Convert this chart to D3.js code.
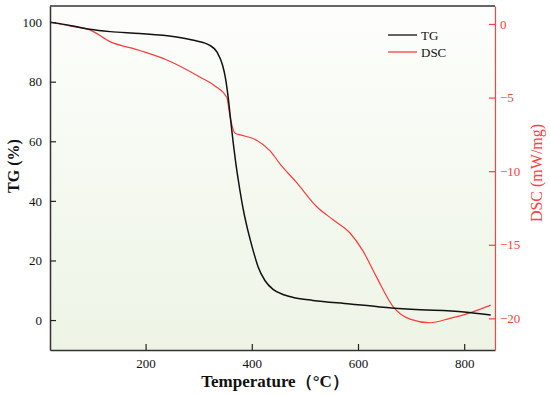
<!DOCTYPE html>
<html>
<head>
<meta charset="utf-8">
<script src="https://cdn.jsdelivr.net/npm/d3@7"></script>
<style>
body { margin: 0; background: #fff; }
svg text { font-family: "Liberation Serif", "Times New Roman", serif; }
</style>
</head>
<body>
<script>
// TG curve (mass %) vs temperature
const tgTemp = [20, 60, 95, 133, 189, 255, 293, 320, 335, 345, 350, 355, 360, 365, 370, 375, 383, 390, 397, 405, 412, 425, 440, 460, 480, 515, 585, 641, 700, 800, 850];
const tgVal = [100, 98.8, 97.6, 96.8, 96.2, 95.1, 93.8, 92.3, 89.8, 85.5, 81.6, 75.5, 67.5, 59.5, 52.5, 46.5, 38, 32, 27, 21.8, 17.8, 13.2, 10.3, 8.5, 7.5, 6.6, 5.4, 4.4, 3.6, 2.7, 1.7];
// DSC curve (mW/mg)
const dscTemp = [20, 60, 95, 133, 189, 240, 302, 330, 353, 359, 368, 380, 400, 409, 434, 453, 485, 522, 553, 585, 609, 635, 666, 698, 736, 773, 800, 850];
const dscVal = [0.1, -0.15, -0.4, -1.2, -1.8, -2.45, -3.6, -4.2, -5.0, -6.3, -7.4, -7.55, -7.75, -7.9, -8.6, -9.5, -10.8, -12.4, -13.3, -14.2, -15.4, -17.2, -19.2, -20.05, -20.3, -20.0, -19.75, -19.1];
const tgTicks = [0, 20, 40, 60, 80, 100];
const dscTicks = [0, -5, -10, -15, -20];
const tempTicks = [200, 400, 600, 800];

const width = 550, height = 396;
const mLeft = 50, mRight = 495, mTop = 6, mBottom = 350;

const svg = d3.select('body').append('svg').attr('width', width).attr('height', height);

const grad = svg.append('defs').append('linearGradient')
  .attr('id', 'bg').attr('x1', 0).attr('y1', 0).attr('x2', 0).attr('y2', 1);
grad.append('stop').attr('offset', '0%').attr('stop-color', '#fdfefc');
grad.append('stop').attr('offset', '100%').attr('stop-color', '#edf4e5');

svg.append('rect').attr('x', mLeft).attr('y', mTop)
  .attr('width', mRight - mLeft).attr('height', mBottom - mTop).attr('fill', 'url(#bg)');

const x = d3.scaleLinear().domain([20, 858]).range([mLeft, mRight]);
const yTG = d3.scaleLinear().domain([-10.05, 105.4]).range([mBottom, mTop]);
const yDSC = d3.scaleLinear().domain([-22.15, 1.22]).range([mBottom, mTop]);

const line = (xs, ys, yScale) => d3.line()
  .x((d, i) => x(xs[i]))
  .y(d => yScale(d))
  .curve(d3.curveMonotoneX)(ys);

svg.append('path').attr('d', line(dscTemp, dscVal, yDSC))
  .attr('fill', 'none').attr('stroke', '#ff3b3b').attr('stroke-width', 1.2);
svg.append('path').attr('d', line(tgTemp, tgVal, yTG))
  .attr('fill', 'none').attr('stroke', '#111').attr('stroke-width', 1.5);

// axes
const gl = svg.append('g').attr('transform', `translate(${mLeft},0)`)
  .call(d3.axisLeft(yTG).tickValues(tgTicks).tickSizeInner(-6).tickSizeOuter(0).tickPadding(8));
const gb = svg.append('g').attr('transform', `translate(0,${mBottom})`)
  .call(d3.axisBottom(x).tickValues(tempTicks).tickSizeInner(-6).tickSizeOuter(0).tickPadding(9));
const gr = svg.append('g').attr('transform', `translate(${mRight},0)`)
  .call(d3.axisRight(yDSC).tickValues(dscTicks).tickSizeInner(-6).tickSizeOuter(0).tickPadding(5));

[gl, gb].forEach(g => {
  g.select('.domain').attr('stroke', '#333').attr('stroke-width', 1.5);
  g.selectAll('.tick line').attr('stroke', '#222').attr('stroke-width', 1.2);
  g.selectAll('text').attr('font-size', 13).attr('fill', '#111')
    .style('font-family', '"Liberation Serif", serif');
});
gr.select('.domain').attr('stroke', '#ff4040').attr('stroke-width', 1.2);
gr.selectAll('.tick line').attr('stroke', '#ff4040').attr('stroke-width', 1.2);
gr.selectAll('text').attr('font-size', 13).attr('fill', '#ff4040')
  .style('font-family', '"Liberation Serif", serif');

svg.append('line').attr('x1', mLeft).attr('x2', mRight).attr('y1', mTop).attr('y2', mTop)
  .attr('stroke', '#333').attr('stroke-width', 1.5);

// axis titles
svg.append('text').attr('transform', 'translate(19,166) rotate(-90)')
  .attr('text-anchor', 'middle').attr('font-size', 16).attr('font-weight', 'bold')
  .attr('fill', '#111').text('TG (%)');
svg.append('text').attr('transform', 'translate(542,173) rotate(-90)')
  .attr('text-anchor', 'middle').attr('font-size', 16)
  .attr('fill', '#ff4040').text('DSC (mW/mg)');
svg.append('text').attr('x', 275).attr('y', 387)
  .attr('text-anchor', 'middle').attr('font-size', 17).attr('font-weight', 'bold')
  .attr('fill', '#111').text('Temperature（°C）');

// legend
const legend = [['TG', '#111'], ['DSC', '#ff3b3b']];
legend.forEach((d, i) => {
  const ly = 35 + i * 17;
  svg.append('line').attr('x1', 388).attr('x2', 417).attr('y1', ly).attr('y2', ly)
    .attr('stroke', d[1]).attr('stroke-width', 1.3);
  svg.append('text').attr('x', 421).attr('y', ly + 4.5).attr('font-size', 13)
    .attr('fill', '#111').text(d[0]);
});
</script>
</body>
</html>
